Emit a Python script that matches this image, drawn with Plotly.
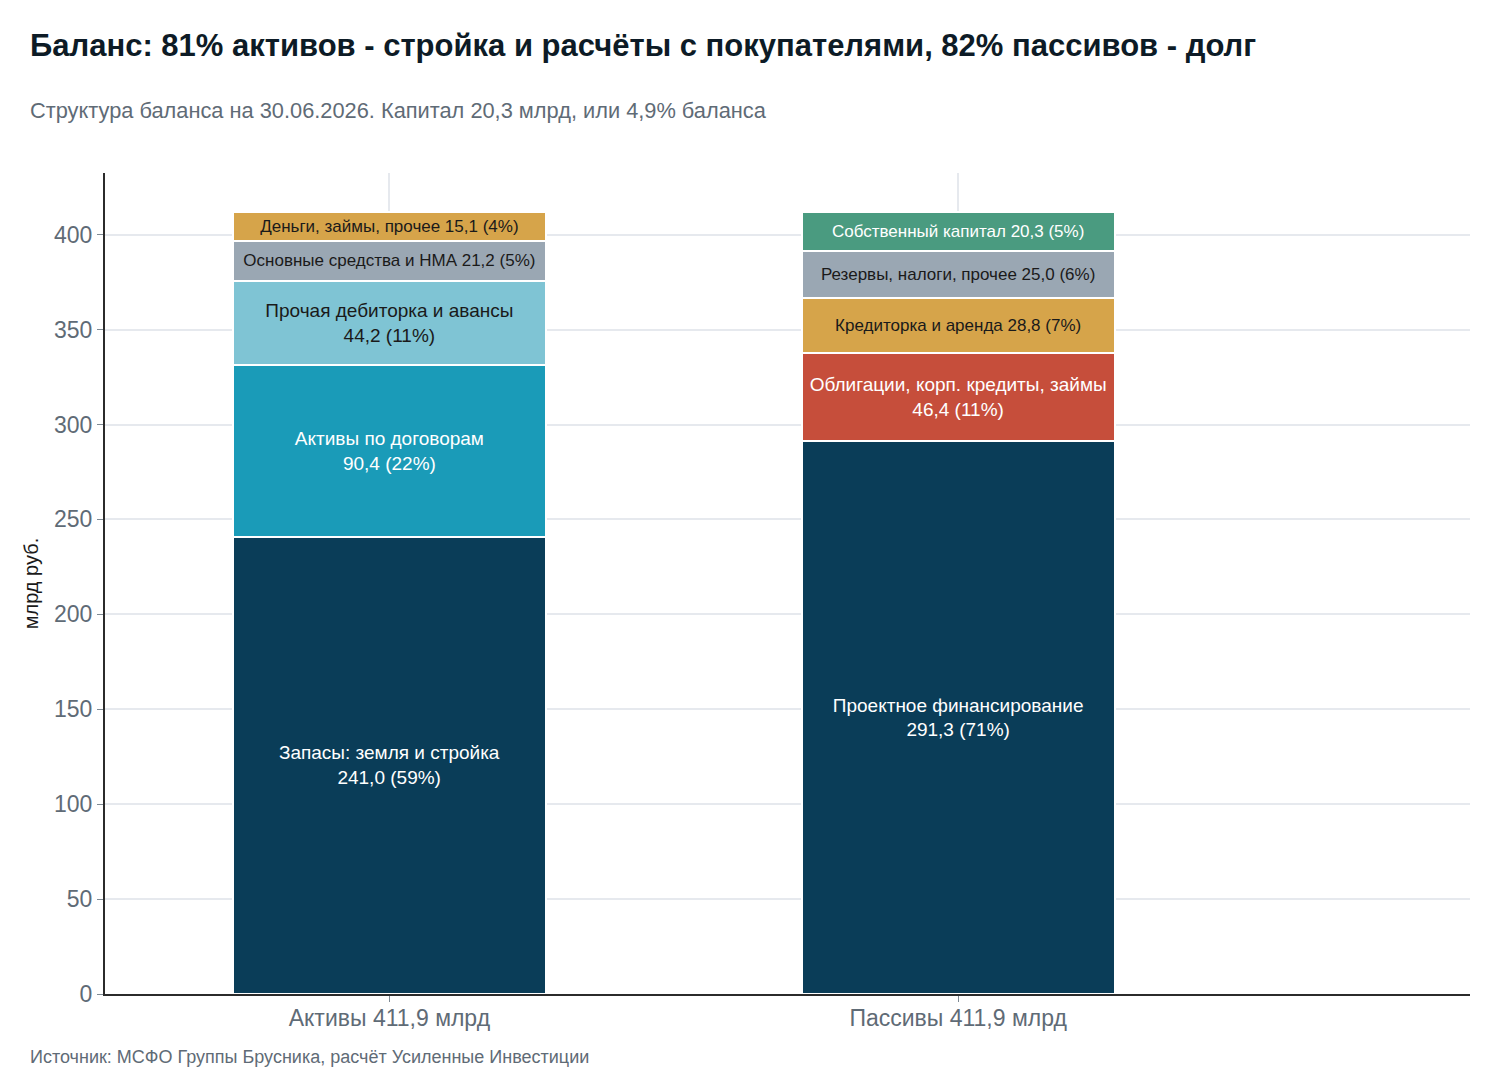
import plotly.graph_objects as go

# данные баланса, млрд руб.
categories = ["Активы 411,9 млрд", "Пассивы 411,9 млрд"]

asset_names = ["Запасы: земля и стройка", "Активы по договорам", "Прочая дебиторка и авансы",
               "Основные средства и НМА", "Деньги, займы, прочее"]
asset_values = [241.0, 90.4, 44.2, 21.2, 15.1]
asset_colors = ["#0a3d58", "#1a9bb8", "#7fc4d4", "#9aa7b3", "#d6a44a"]
asset_text_colors = ["white", "white", "#1a1a1a", "#1a1a1a", "#1a1a1a"]
asset_breaks = [True, True, True, False, False]

liab_names = ["Проектное финансирование", "Облигации, корп. кредиты, займы", "Кредиторка и аренда",
              "Резервы, налоги, прочее", "Собственный капитал"]
liab_values = [291.3, 46.4, 28.8, 25.0, 20.3]
liab_colors = ["#0a3d58", "#c64e3b", "#d6a44a", "#9aa7b3", "#4a9b80"]
liab_text_colors = ["white", "white", "#1a1a1a", "#1a1a1a", "white"]
liab_breaks = [True, True, False, False, False]

total = 411.9

FONT = "Liberation Sans, Arial, sans-serif"


def label(name, v, brk):
    pct = round(v / total * 100)
    num = f"{v:.1f}".replace(".", ",")
    sep = "<br>" if brk else " "
    return f"{name}{sep}{num} ({pct}%)"


fig = go.Figure()

for cat, names, vals, cols, tcols, brks in [
    (categories[0], asset_names, asset_values, asset_colors, asset_text_colors, asset_breaks),
    (categories[1], liab_names, liab_values, liab_colors, liab_text_colors, liab_breaks),
]:
    for n, v, c, tc, b in zip(names, vals, cols, tcols, brks):
        fig.add_trace(go.Bar(
            x=[cat], y=[v],
            name=n,
            width=0.55,
            marker=dict(color=c, line=dict(color="white", width=2)),
            text=[label(n, v, b)],
            textposition="inside",
            insidetextanchor="middle",
            textangle=0,
            textfont=dict(color=tc, size=19 if b else 17, family=FONT),
            hoverinfo="skip",
            showlegend=False,
        ))

# страница сдвигает график на 8px (отступ body), поэтому поля уменьшены
fig.update_layout(
    barmode="stack",
    width=1500, height=1080,
    margin=dict(l=97, r=38, t=165, b=94),
    paper_bgcolor="white", plot_bgcolor="white",
    font=dict(family=FONT, color="#1a1a1a"),
    title=dict(
        text="<b>Баланс: 81% активов - стройка и расчёты с покупателями, 82% пассивов - долг</b>",
        xref="container", x=22 / 1500, xanchor="left",
        yref="container", y=1 - 37 / 1080, yanchor="middle",
        font=dict(size=31, color="#0d1b26", family=FONT),
    ),
    annotations=[
        dict(text="Структура баланса на 30.06.2026. Капитал 20,3 млрд, или 4,9% баланса",
             xref="paper", yref="paper", x=-77 / 1365, y=(994 - 111) / 821,
             xanchor="left", yanchor="middle", showarrow=False,
             font=dict(size=21.8, color="#5f6b76", family=FONT)),
        dict(text="Источник: МСФО Группы Брусника, расчёт Усиленные Инвестиции",
             xref="paper", yref="paper", x=-77 / 1365, y=(994 - 1057) / 821,
             xanchor="left", yanchor="middle", showarrow=False,
             font=dict(size=18, color="#5f6b76", family=FONT)),
    ],
    xaxis=dict(
        range=[-0.5, 1.9],
        showgrid=True, gridcolor="#e6e9ee", gridwidth=1.5,
        showline=True, linecolor="#2b2b2b", linewidth=2,
        ticks="outside", ticklen=6, tickcolor="#7f8a94",
        ticklabelstandoff=-4,
        tickfont=dict(size=23, color="#5f6b76", family=FONT),
    ),
    yaxis=dict(
        range=[0, total * 1.05],
        dtick=50,
        showgrid=True, gridcolor="#e6e9ee", gridwidth=1.5,
        showline=True, linecolor="#2b2b2b", linewidth=2,
        ticks="outside", ticklen=6, tickcolor="#7f8a94",
        tickfont=dict(size=23, color="#5f6b76", family=FONT),
        zeroline=False,
        title=dict(text="млрд руб.", font=dict(size=20, color="#1a1a1a", family=FONT), standoff=10),
    ),
)

fig.write_html("out.html")
